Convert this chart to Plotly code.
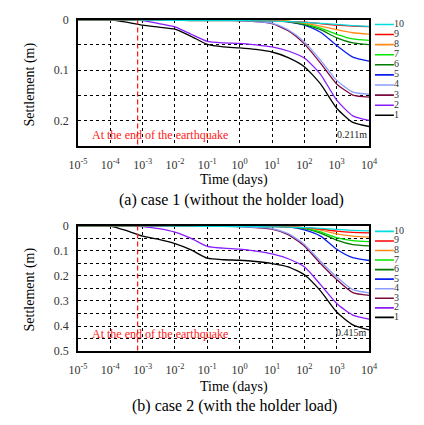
import plotly.graph_objects as go

# Elapsed time after shaking (days), half-decade steps from 1e-5 to 1e4
time_days = [1e-5, 3.16e-5, 1e-4, 3.16e-4, 1e-3, 3.16e-3, 1e-2, 3.16e-2, 1e-1, 3.16e-1,
             1e0, 3.16e0, 1e1, 3.16e1, 1e2, 3.16e2, 1e3, 3.16e3, 1e4]

eq_end_time = 7e-4  # end of the earthquake (days)

point_labels = ["1", "2", "3", "4", "5", "6", "7", "8", "9", "10"]
point_colors = ["#000000", "#8a1cff", "#7a0a3c", "#8c9cff", "#0a1ef0",
                "#007a00", "#00e600", "#ff8c1a", "#ff0000", "#00dcdc"]

# Case 1: settlement (m) without the holder load
case1 = {
    "1": [0, 0, 0.0005, 0.005, 0.011, 0.015, 0.019, 0.033, 0.049, 0.054, 0.056, 0.059, 0.064, 0.075, 0.093, 0.127, 0.175, 0.203, 0.211],
    "2": [0, 0, 0, 0, 0.002, 0.008, 0.0146, 0.029, 0.043, 0.046, 0.047, 0.050, 0.054, 0.062, 0.076, 0.108, 0.159, 0.190, 0.199],
    "3": [0, 0, 0, 0, 0, 0, 0, 0, 0, 0.001, 0.002, 0.004, 0.008, 0.022, 0.048, 0.086, 0.127, 0.149, 0.153],
    "4": [0, 0, 0, 0, 0, 0, 0, 0, 0, 0.001, 0.002, 0.004, 0.007, 0.020, 0.044, 0.080, 0.120, 0.143, 0.147],
    "5": [0, 0, 0, 0, 0, 0, 0, 0, 0, 0, 0.0005, 0.001, 0.001, 0.0045, 0.011, 0.025, 0.051, 0.074, 0.082],
    "6": [0, 0, 0, 0, 0, 0, 0, 0, 0, 0, 0.0005, 0.001, 0.001, 0.004, 0.010, 0.020, 0.036, 0.046, 0.0495],
    "7": [0, 0, 0, 0, 0, 0, 0, 0, 0, 0, 0.0005, 0.001, 0.001, 0.003, 0.008, 0.017, 0.029, 0.038, 0.041],
    "8": [0, 0, 0, 0, 0, 0, 0, 0, 0, 0, 0.0005, 0.001, 0.001, 0.003, 0.007, 0.013, 0.020, 0.026, 0.0286],
    "9": [0, 0, 0, 0, 0.001, 0.0012, 0.0015, 0.0018, 0.002, 0.002, 0.002, 0.0025, 0.003, 0.004, 0.005, 0.008, 0.011, 0.013, 0.014],
    "10": [0, 0, 0, 0, 0.001, 0.0012, 0.0015, 0.0018, 0.002, 0.002, 0.002, 0.0025, 0.003, 0.004, 0.0055, 0.0075, 0.0095, 0.012, 0.0133],
}

# Case 2: settlement (m) with the holder load
case2 = {
    "1": [0, 0, 0.002, 0.020, 0.042, 0.055, 0.072, 0.097, 0.130, 0.136, 0.138, 0.143, 0.151, 0.164, 0.196, 0.260, 0.344, 0.395, 0.415],
    "2": [0, 0, 0, 0, 0.004, 0.012, 0.026, 0.051, 0.083, 0.090, 0.094, 0.102, 0.113, 0.132, 0.164, 0.235, 0.310, 0.356, 0.372],
    "3": [0, 0, 0, 0, 0, 0, 0, 0, 0, 0.002, 0.004, 0.008, 0.014, 0.036, 0.081, 0.151, 0.215, 0.267, 0.278],
    "4": [0, 0, 0, 0, 0, 0, 0, 0, 0, 0.002, 0.004, 0.007, 0.012, 0.032, 0.075, 0.142, 0.205, 0.255, 0.268],
    "5": [0, 0, 0, 0, 0, 0, 0, 0, 0, 0, 0.0005, 0.001, 0.002, 0.005, 0.017, 0.042, 0.094, 0.128, 0.139],
    "6": [0, 0, 0, 0, 0, 0, 0, 0, 0, 0, 0.0005, 0.001, 0.002, 0.005, 0.012, 0.030, 0.058, 0.076, 0.081],
    "7": [0, 0, 0, 0, 0, 0, 0, 0, 0, 0, 0.0005, 0.001, 0.002, 0.004, 0.010, 0.025, 0.048, 0.060, 0.064],
    "8": [0, 0, 0, 0, 0, 0, 0, 0, 0, 0, 0.0005, 0.001, 0.001, 0.003, 0.008, 0.018, 0.033, 0.042, 0.046],
    "9": [0, 0, 0, 0, 0.001, 0.0015, 0.002, 0.0025, 0.003, 0.003, 0.003, 0.0035, 0.004, 0.006, 0.008, 0.014, 0.022, 0.027, 0.029],
    "10": [0, 0, 0, 0, 0.001, 0.0015, 0.002, 0.0025, 0.003, 0.0035, 0.004, 0.0045, 0.005, 0.006, 0.008, 0.011, 0.015, 0.019, 0.021],
}

x_tick_vals = [1e-5, 1e-4, 1e-3, 1e-2, 1e-1, 1e0, 1e1, 1e2, 1e3, 1e4]
x_tick_text = ["10<sup>-5</sup>", "10<sup>-4</sup>", "10<sup>-3</sup>", "10<sup>-2</sup>", "10<sup>-1</sup>",
               "10<sup>0</sup>", "10<sup>1</sup>", "10<sup>2</sup>", "10<sup>3</sup>", "10<sup>4</sup>"]
y1_tick_vals = [0, 0.05, 0.1, 0.15, 0.2, 0.25]
y1_tick_text = ["0", "", "0.1", "", "0.2", ""]
y2_tick_vals = [0, 0.05, 0.1, 0.15, 0.2, 0.25, 0.3, 0.35, 0.4, 0.45, 0.5]
y2_tick_text = ["0", "", "0.1", "", "0.2", "", "0.3", "", "0.4", "", "0.5"]

FONT = "Times New Roman, Liberation Serif, serif"
W, H = 424, 425


def px_x(p):
    return p / W


def px_y(p):
    return 1 - p / H


fig = go.Figure()

panels = [
    # data, x-axis, y-axis, y max, key axes
    (case1, "x", "y", 0.25, "x3", "y3"),
    (case2, "x2", "y2", 0.5, "x4", "y4"),
]

for data, xa, ya, ymax, lxa, lya in panels:
    for lab, col in zip(point_labels, point_colors):
        fig.add_trace(go.Scatter(
            x=time_days, y=data[lab], mode="lines",
            line=dict(color=col, width=1.3, shape="spline", smoothing=0.6),
            xaxis=xa, yaxis=ya, showlegend=False, hoverinfo="skip"))
    fig.add_trace(go.Scatter(
        x=[eq_end_time, eq_end_time], y=[0, ymax], mode="lines",
        line=dict(color="#ff1a1a", width=1.2, dash="5px,3px"),
        xaxis=xa, yaxis=ya, showlegend=False, hoverinfo="skip"))
    # key: one short segment per measuring point, label to its right
    for k, (lab, col) in enumerate(zip(point_labels, point_colors)):
        fig.add_trace(go.Scatter(
            x=[0, 1], y=[k + 1, k + 1], mode="lines",
            line=dict(color=col, width=1.6),
            xaxis=lxa, yaxis=lya, showlegend=False, hoverinfo="skip", cliponaxis=False))
        fig.add_trace(go.Scatter(
            x=[1], y=[k + 1], mode="text",
            text=[lab], textposition="middle right",
            textfont=dict(family=FONT, size=10, color="#333333"),
            xaxis=lxa, yaxis=lya, showlegend=False, hoverinfo="skip", cliponaxis=False))

x_dom = [px_x(72), px_x(376)]
axis_common = dict(showline=True, linecolor="black", linewidth=1.5, mirror=True,
                   showgrid=True, gridcolor="#000000", gridwidth=1, griddash="3px,3px",
                   zeroline=False, ticks="", tickfont=dict(family=FONT, size=12, color="#333333"))

fig.update_layout(
    width=W, height=H,
    margin=dict(l=0, r=0, t=0, b=0),
    paper_bgcolor="white", plot_bgcolor="white",
    showlegend=False,
    font=dict(family=FONT),
    xaxis=dict(type="log", range=[-5, 4], domain=x_dom, anchor="y",
               tickvals=x_tick_vals, ticktext=x_tick_text, ticklabelstandoff=7, **axis_common),
    yaxis=dict(range=[0.25, 0], domain=[px_y(144), px_y(13)], anchor="x",
               tickvals=y1_tick_vals, ticktext=y1_tick_text, ticklabelstandoff=5, **axis_common),
    xaxis2=dict(type="log", range=[-5, 4], domain=x_dom, anchor="y2",
                tickvals=x_tick_vals, ticktext=x_tick_text, ticklabelstandoff=7, **axis_common),
    yaxis2=dict(range=[0.5, 0], domain=[px_y(356), px_y(226)], anchor="x2",
                tickvals=y2_tick_vals, ticktext=y2_tick_text, ticklabelstandoff=5, **axis_common),
    xaxis3=dict(range=[0, 1], domain=[px_x(382), px_x(402)], anchor="y3", visible=False),
    yaxis3=dict(range=[0.5, 10.5], domain=[px_y(117.2), px_y(12.8)], anchor="x3", visible=False),
    xaxis4=dict(range=[0, 1], domain=[px_x(382), px_x(402)], anchor="y4", visible=False),
    yaxis4=dict(range=[0.5, 10.5], domain=[px_y(325.9), px_y(227.1)], anchor="x4", visible=False),
)


def note(text, x, y, size, color="black", xanchor="center", angle=0):
    fig.add_annotation(text=text, x=px_x(x), y=px_y(y), xref="paper", yref="paper",
                       xanchor=xanchor, yanchor="middle", showarrow=False, textangle=angle,
                       font=dict(family=FONT, size=size, color=color))


# axis titles and captions
note("Settlement (m)", 22, 80, 14, angle=-90)
note("Settlement (m)", 22, 292, 14, angle=-90)
note("Time (days)", 235, 179, 14)
note("Time (days)", 235, 393, 14)
note("(a) case 1 (without the holder load)", 232, 200, 16)
note("(b) case 2 (with the holder load)", 235, 413, 16)

# in-plot labels
note("At the end of the earthquake", 85, 132, 12, color="#ff2020", xanchor="left")
note("At the end of the earthquake", 85, 338, 12, color="#ff2020", xanchor="left")
note(f"{case1['1'][-1]:.3f}m", 376, 132, 10, color="#222222", xanchor="right")
note(f"{case2['1'][-1]:.3f}m", 376, 337, 10, color="#222222", xanchor="right")

fig.write_html("out.html")
